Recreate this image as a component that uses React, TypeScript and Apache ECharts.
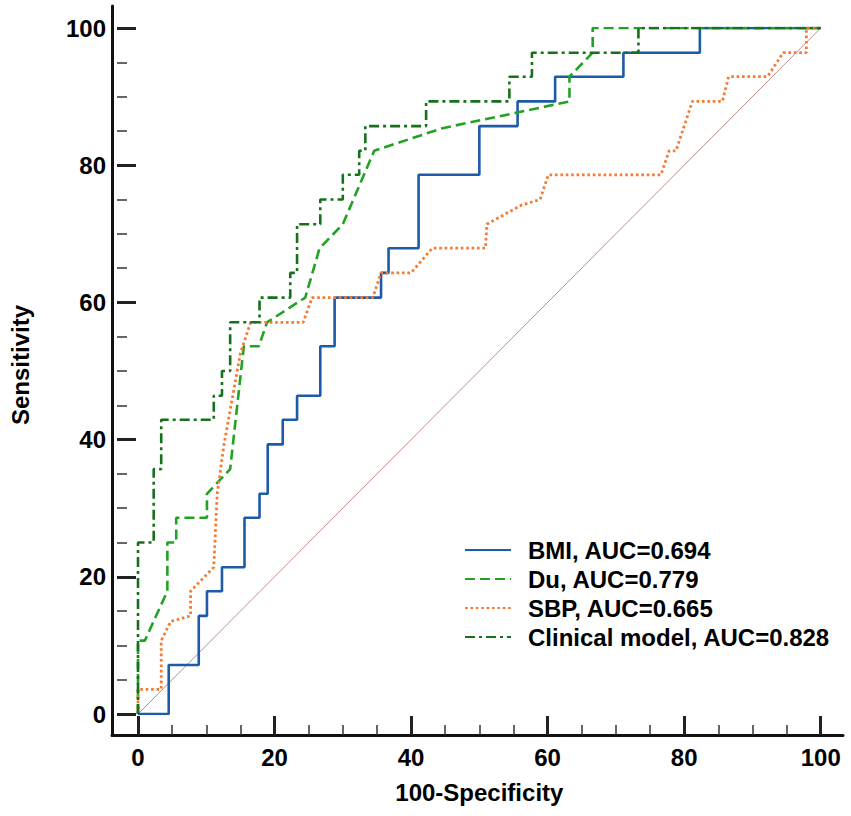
import React, { useEffect, useRef } from "react";
import * as echarts from "echarts";

// ---- data (100-Specificity, Sensitivity) ----
const xTicks = [0, 20, 40, 60, 80, 100];

const seriesNames = [
  "BMI, AUC=0.694",
  "Du, AUC=0.779",
  "SBP, AUC=0.665",
  "Clinical model, AUC=0.828",
];

const bmiX = [0, 4.5, 4.5, 8.9, 8.9, 10.1, 10.1, 12.3, 12.3, 15.6, 15.6, 17.8, 17.8, 19.0, 19.0, 21.2, 21.2, 23.3, 23.3, 26.7, 26.7, 28.8, 28.8, 35.6, 35.6, 36.7, 36.7, 41.1, 41.1, 50.0, 50.0, 55.6, 55.6, 61.1, 61.1, 71.1, 71.1, 82.3, 82.3, 100];
const bmiY = [0, 0, 7.14, 7.14, 14.3, 14.3, 17.9, 17.9, 21.4, 21.4, 28.6, 28.6, 32.1, 32.1, 39.3, 39.3, 42.9, 42.9, 46.4, 46.4, 53.6, 53.6, 60.7, 60.7, 64.3, 64.3, 67.9, 67.9, 78.6, 78.6, 85.7, 85.7, 89.3, 89.3, 92.9, 92.9, 96.4, 96.4, 100, 100];

const duX = [0, 0, 1.0, 4.3, 4.3, 5.6, 5.6, 10.1, 10.1, 13.5, 15.5, 17.7, 18.9, 24.5, 26.6, 30.0, 34.6, 44.6, 55.2, 63.2, 63.2, 66.6, 66.6, 100];
const duY = [0, 10.7, 10.7, 17.9, 25, 25, 28.6, 28.6, 32.1, 35.7, 53.6, 53.6, 57.1, 60.7, 67.9, 71.4, 82.1, 85.4, 87.6, 89.3, 92.9, 96.4, 100, 100];

const sbpX = [0, 0, 3.4, 3.4, 4.8, 7.7, 7.7, 11.1, 11.6, 12.6, 15.0, 16.5, 24.2, 25.5, 34.4, 35.6, 40.0, 43.1, 50.9, 51.1, 56.2, 58.9, 60.1, 76.6, 77.8, 78.8, 81.2, 85.6, 86.5, 92.2, 94.5, 97.9, 97.9, 100];
const sbpY = [0, 3.6, 3.6, 10.7, 13.5, 14.3, 17.9, 21.4, 32.1, 39.3, 52.6, 57.1, 57.1, 60.7, 60.7, 64.3, 64.3, 67.9, 67.9, 71.4, 74.2, 75, 78.6, 78.6, 82.1, 82.1, 89.3, 89.3, 92.9, 92.9, 96.4, 96.4, 100, 100];

const clinX = [0, 0, 2.3, 2.3, 3.4, 3.4, 11.1, 11.1, 12.3, 12.3, 13.5, 13.5, 17.8, 17.8, 22.3, 22.3, 23.3, 23.3, 26.7, 26.7, 30.0, 30.0, 32.4, 32.4, 33.3, 33.3, 42.2, 42.2, 54.4, 54.4, 57.7, 57.7, 73.3, 73.3, 100];
const clinY = [0, 25, 25, 35.7, 35.7, 42.9, 42.9, 46.4, 46.4, 50, 50, 57.1, 57.1, 60.7, 60.7, 64.3, 64.3, 71.4, 71.4, 75, 75, 78.6, 78.6, 82.1, 82.1, 85.7, 85.7, 89.3, 89.3, 92.9, 92.9, 96.4, 96.4, 100, 100];

const refX = [0, 100];
const refY = [0, 100];

const zip = (xs: number[], ys: number[]) => xs.map((x, i) => [x, ys[i]]);

const FONT = "'Liberation Sans', Arial, sans-serif";

export default function App() {
  const ref = useRef<HTMLDivElement>(null);
  useEffect(() => {
    if (!ref.current) return;
    const chart = echarts.init(ref.current, null, { renderer: "svg" });
    const axisCommon = {
      type: "value" as const,
      min: 0,
      max: 100,
      interval: 20,
      offset: 21,
      axisLine: { show: false, onZero: false },
      axisTick: { show: true, inside: true, length: 19, lineStyle: { width: 3, color: "#222" } },
      minorTick: { show: true, splitNumber: 4, length: 10, lineStyle: { width: 1.5, color: "#333" } },
      splitLine: { show: false },
      nameTextStyle: { fontFamily: FONT, fontSize: 24, fontWeight: "bold" as const, color: "#000" },
    };
    chart.setOption({
      animation: false,
      backgroundColor: "#fff",
      grid: [
        { left: 133.5, right: 30.3, top: 28, bottom: 102 },
        { left: 112, right: 8, top: 6, bottom: 81 },
      ],
      xAxis: [
        {
          ...axisCommon,
          gridIndex: 0,
          position: "bottom",
          axisLabel: {
            fontFamily: FONT,
            fontSize: 24,
            fontWeight: "bold",
            color: "#000",
            margin: 10,
            customValues: xTicks,
          },
          name: "100-Specificity",
          nameLocation: "middle",
          nameGap: 45,
        },
        {
          type: "value",
          gridIndex: 1,
          min: 0,
          max: 1,
          axisLine: { show: true, onZero: false, lineStyle: { width: 3, color: "#111" } },
          axisTick: { show: false },
          axisLabel: { show: false },
          splitLine: { show: false },
        },
      ],
      yAxis: [
        {
          ...axisCommon,
          gridIndex: 0,
          position: "left",
          axisLabel: {
            fontFamily: FONT,
            fontSize: 24,
            fontWeight: "bold",
            color: "#000",
            margin: 11,
          },
          name: "Sensitivity",
          nameLocation: "middle",
          nameGap: 85,
          nameTextStyle: { ...axisCommon.nameTextStyle, padding: [0, 0, 0, 12] },
        },
        {
          type: "value",
          gridIndex: 1,
          min: 0,
          max: 1,
          axisLine: { show: true, onZero: false, lineStyle: { width: 3, color: "#111" } },
          axisTick: { show: false },
          axisLabel: { show: false },
          splitLine: { show: false },
        },
      ],
      legend: {
        data: seriesNames,
        orient: "vertical",
        left: 464,
        top: 538,
        padding: 0,
        itemWidth: 46,
        itemHeight: 14,
        itemGap: 5,
        itemStyle: { opacity: 0 },
        lineStyle: { width: 2 },
        textStyle: {
          fontFamily: FONT,
          fontSize: 24,
          fontWeight: "bold",
          color: "#000",
          lineHeight: 24,
          padding: [0, 0, 0, 12],
        },
      },
      series: [
        {
          type: "line",
          name: "ref",
          data: zip(refX, refY),
          symbol: "none",
          lineStyle: { color: "#c68a88", width: 1 },
          itemStyle: { color: "#c68a88" },
          silent: true,
        },
        {
          type: "line",
          name: seriesNames[0],
          data: zip(bmiX, bmiY),
          symbol: "none",
          lineStyle: { color: "#1d5aa8", width: 2.6, type: "solid" },
          itemStyle: { color: "#1d5aa8" },
        },
        {
          type: "line",
          name: seriesNames[1],
          data: zip(duX, duY),
          symbol: "none",
          lineStyle: { color: "#22a222", width: 2.6, type: [10, 5] },
          itemStyle: { color: "#22a222" },
        },
        {
          type: "line",
          name: seriesNames[2],
          data: zip(sbpX, sbpY),
          symbol: "none",
          lineStyle: { color: "#f47a30", width: 2.8, type: [2.6, 2.8] },
          itemStyle: { color: "#f47a30" },
        },
        {
          type: "line",
          name: seriesNames[3],
          data: zip(clinX, clinY),
          symbol: "none",
          lineStyle: { color: "#16701c", width: 2.6, type: [10, 4, 3, 4] },
          itemStyle: { color: "#16701c" },
        },
      ],
    });
    return () => chart.dispose();
  }, []);
  return (
    <div
      ref={ref}
      style={{ position: "absolute", left: 0, top: 0, width: 851, height: 816 }}
    />
  );
}
